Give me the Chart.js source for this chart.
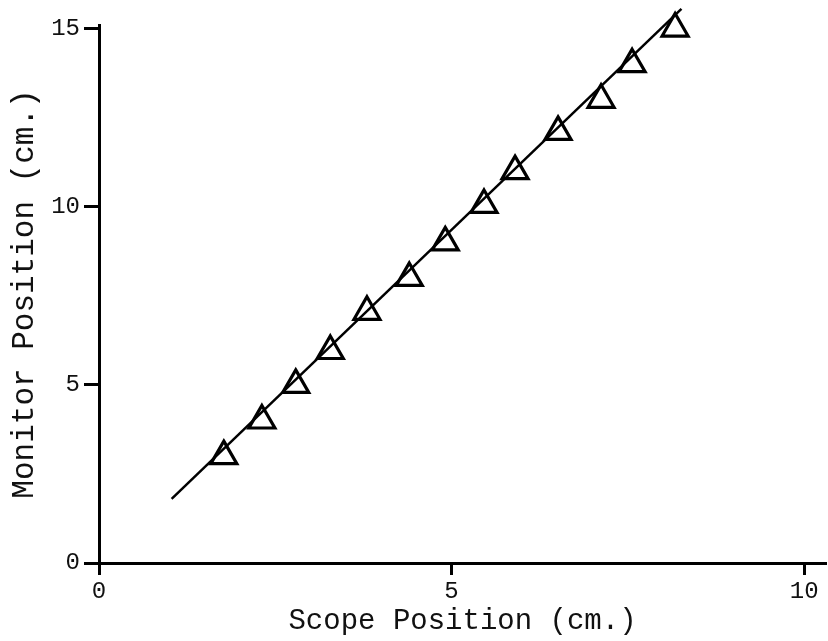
<!DOCTYPE html>
<html>
<head>
<meta charset="utf-8">
<script src="https://cdn.jsdelivr.net/npm/chart.js@4.4.1/dist/chart.umd.min.js"></script>
<style>
  html, body { margin: 0; padding: 0; background: #fff; overflow: hidden; }
  #wrap { width: 828px; height: 641px; }
  canvas { display: block; }
</style>
</head>
<body>
<div id="wrap"><canvas id="myChart" width="828" height="641"></canvas></div>
<script>
// scope position (cm.) vs monitor position (cm.)
var scopePos = [1.77, 2.31, 2.79, 3.28, 3.80, 4.40, 4.91, 5.46, 5.90, 6.51, 7.12, 7.56, 8.17];
var monitorPos = [3.0, 4.0, 5.0, 5.95, 7.05, 8.0, 9.0, 10.05, 11.0, 12.1, 13.0, 14.0, 15.0];

// fitted straight line, ends as drawn
var fitX = [1.03, 8.26];
var fitY = [1.8, 15.55];

var xTicks = [0, 5, 10];
var yTicks = [0, 5, 10, 15];

var fonte = "'Liberation Mono', 'Courier New', monospace";

var pontos = [];
for (var i = 0; i < scopePos.length; i++) {
  pontos.push({ x: scopePos[i], y: monitorPos[i] });
}
var reta = [];
for (var i = 0; i < fitX.length; i++) {
  reta.push({ x: fitX[i], y: fitY[i] });
}

var ctx = document.getElementById("myChart");
var data = {
  datasets: [
    {
      type: "line",
      data: reta,
      borderColor: "#000",
      borderWidth: 2.5,
      pointRadius: 0,
      fill: false,
      clip: false,
    },
    {
      data: pontos,
      pointStyle: "triangle",
      pointRadius: 15,
      pointBorderWidth: 3.2,
      pointBorderColor: "#000",
      pointBackgroundColor: "#fff",
      clip: false,
    },
    {
      data: pontos,
      pointStyle: "circle",
      pointRadius: 1.6,
      pointBorderWidth: 0,
      pointBackgroundColor: "#000",
      clip: false,
    },
  ],
};

var config = {
  type: "scatter",
  data,
  options: {
    responsive: false,
    animation: false,
    layout: { autoPadding: false, padding: { top: 25, right: 2, left: 0, bottom: 0 } },
    plugins: {
      legend: { display: false },
      tooltip: { enabled: false },
    },
    scales: {
      x: {
        type: "linear",
        min: 0,
        max: 10.31,
        afterBuildTicks: function (scale) {
          scale.ticks = xTicks.map(function (v) { return { value: v }; });
        },
        afterFit: function (scale) {
          scale.height = 78;
          scale.paddingLeft = 0;
          scale.paddingRight = 0;
        },
        grid: {
          drawOnChartArea: false,
          drawTicks: true,
          tickLength: 12,
          tickWidth: 3,
          tickColor: "#000",
        },
        border: { display: true, color: "#000", width: 3 },
        ticks: {
          color: "#111",
          font: { family: fonte, size: 24 },
          padding: 2,
          maxRotation: 0,
        },
        title: {
          display: true,
          text: "Scope Position (cm.)",
          color: "#111",
          font: { family: fonte, size: 29 },
          padding: { top: 0, bottom: 2 },
        },
      },
      y: {
        type: "linear",
        min: 0,
        max: 15.1,
        afterBuildTicks: function (scale) {
          scale.ticks = yTicks.map(function (v) { return { value: v }; });
        },
        afterFit: function (scale) {
          scale.width = 99;
          scale.paddingTop = 0;
          scale.paddingBottom = 0;
        },
        grid: {
          drawOnChartArea: false,
          drawTicks: true,
          tickLength: 15,
          tickWidth: 3,
          tickColor: "#000",
        },
        border: { display: true, color: "#000", width: 3 },
        ticks: {
          color: "#111",
          font: { family: fonte, size: 24 },
          padding: 4,
        },
        title: {
          display: true,
          text: "Monitor Position (cm.)",
          color: "#111",
          font: { family: fonte, size: 31 },
          padding: { top: 6, bottom: 0 },
        },
      },
    },
  },
};

var myChart = new Chart(ctx, config);
</script>
</body>
</html>
